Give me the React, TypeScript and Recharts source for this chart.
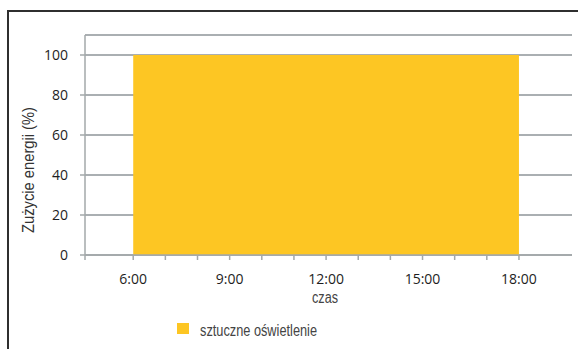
import React from 'react';
import { AreaChart, Area, XAxis, YAxis, CartesianGrid } from 'recharts';

const hours = [6, 18];
const usage = [100, 100];
const xTicks = [4.5, 6, 7, 8, 9, 10, 11, 12, 13, 14, 15, 16, 17, 18];
const xLabels: Record<number, string> = { 6: '6:00', 9: '9:00', 12: '12:00', 15: '15:00', 18: '18:00' };
const yTicks = [0, 20, 40, 60, 80, 100];
const seriesName = 'sztuczne oświetlenie';
const xTitle = 'czas';
const yTitle = 'Zużycie energii (%)';

const data = hours.map((h, i) => ({ t: h, v: usage[i] }));

const YELLOW = '#FDC623';
const FONT = '"Open Sans", sans-serif';
const NARROW = '"Liberation Sans", sans-serif';

export default function App() {
  return (
    <div style={{ position: 'absolute', left: 0, top: 0, width: 578, height: 349, background: '#fff' }}>
      <div
        style={{
          position: 'absolute',
          left: 7,
          top: 10,
          width: 575,
          height: 345,
          borderLeft: '2px solid #2f2f2f',
          borderTop: '2px solid #2f2f2f',
        }}
      />
      <div style={{ position: 'absolute', left: 0, top: 0 }}>
        <AreaChart width={578} height={349} data={data} margin={{ top: 35, right: 6, bottom: 34, left: 0 }}>
          <CartesianGrid vertical={false} stroke="#8e9598" strokeWidth={1.5} />
          <XAxis
            dataKey="t"
            type="number"
            domain={[4.5, 19.65]}
            ticks={xTicks}
            interval={0}
            allowDataOverflow
            tickFormatter={(v: number) => xLabels[v] ?? ''}
            tickSize={5}
            tickMargin={14}
            height={60}
            stroke="#a3a8aa"
            strokeWidth={1.5}
            tick={{ fill: '#1e1e1e', fontSize: 14, fontFamily: FONT }}
            label={{
              content: () => (
                <text
                  x={325}
                  y={303}
                  textAnchor="middle"
                  fill="#444"
                  fontSize={16}
                  fontFamily={NARROW}
                  textLength={26}
                  lengthAdjust="spacingAndGlyphs"
                >
                  {xTitle}
                </text>
              ),
            }}
          />
          <YAxis
            type="number"
            domain={[0, 110]}
            ticks={yTicks}
            interval={0}
            width={85}
            tickSize={5}
            tickMargin={12}
            stroke="#a3a8aa"
            strokeWidth={1.5}
            tick={{ fill: '#1e1e1e', fontSize: 14, fontFamily: FONT }}
            label={{
              content: () => (
                <text
                  x={34}
                  y={170}
                  transform="rotate(-90 34 170)"
                  textAnchor="middle"
                  fill="#333"
                  fontSize={16}
                  fontFamily={NARROW}
                  textLength={126}
                  lengthAdjust="spacingAndGlyphs"
                >
                  {yTitle}
                </text>
              ),
            }}
          />
          <Area
            type="linear"
            dataKey="v"
            stroke="none"
            fill={YELLOW}
            fillOpacity={1}
            isAnimationActive={false}
          />
        </AreaChart>
      </div>
      <div style={{ position: 'absolute', left: 176, top: 318 }}>
        <svg width={220} height={24}>
          <rect x={1} y={5} width={12} height={11} fill={YELLOW} />
          <text
            x={24}
            y={18}
            fill="#444"
            fontSize={16}
            fontFamily={NARROW}
            textLength={117}
            lengthAdjust="spacingAndGlyphs"
          >
            {seriesName}
          </text>
        </svg>
      </div>
    </div>
  );
}
